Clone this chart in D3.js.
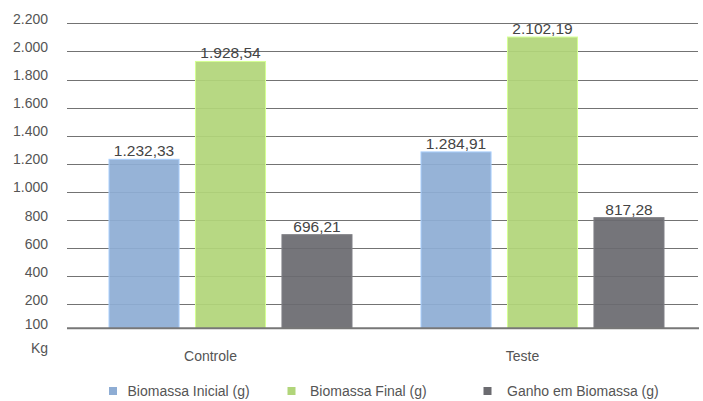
<!DOCTYPE html>
<html>
<head>
<meta charset="utf-8">
<script src="https://cdn.jsdelivr.net/npm/d3@7"></script>
<style>
  body { margin: 0; background: #fff; }
  svg text { font-family: "Helvetica Neue", Helvetica, Arial, "Liberation Sans", sans-serif; }
</style>
</head>
<body>
<svg id="chart" width="703" height="401"></svg>
<script>
// data
const categories = ["Controle", "Teste"];
const seriesNames = ["Biomassa Inicial (g)", "Biomassa Final (g)", "Ganho em Biomassa (g)"];
const biomassaInicial = [1232.33, 1284.91];
const biomassaFinal = [1928.54, 2102.19];
const ganhoBiomassa = [696.21, 817.28];
const yTicks = [200, 400, 600, 800, 1000, 1200, 1400, 1600, 1800, 2000, 2200];
const yBaseLabel = "100";
const yDomain = [30, 2200];
const yUnit = "Kg";

const seriesValues = [biomassaInicial, biomassaFinal, ganhoBiomassa];
const colors = ["#8EADD4", "#B1D57A", "#6B6B70"];

const ptBR = d3.formatLocale({ decimal: ",", thousands: ".", grouping: [3], currency: ["R$", ""] });
const fmtTick = ptBR.format(",d");
const fmtVal = ptBR.format(",.2f");

const svg = d3.select("#chart");
const plotLeft = 67, plotRight = 698, plotTop = 23.3, plotBottom = 328.3;

const y = d3.scaleLinear().domain(yDomain).range([plotBottom, plotTop]);

const x0 = d3.scaleBand()
    .domain(categories)
    .range([plotLeft, plotLeft + 624]);

const x1 = d3.scaleBand()
    .domain(seriesNames)
    .range([42, 285])
    .paddingInner(0.19);

// gridlines
svg.append("g")
    .selectAll("line")
    .data(yTicks)
    .join("line")
    .attr("x1", plotLeft)
    .attr("x2", plotRight)
    .attr("y1", d => Math.round(y(d)) + 0.5)
    .attr("y2", d => Math.round(y(d)) + 0.5)
    .attr("stroke", "#737373")
    .attr("stroke-width", 1);

// tick labels
const tickG = svg.append("g").attr("fill", "#555").attr("font-size", 14).attr("text-anchor", "end");
tickG.selectAll("text")
    .data(yTicks)
    .join("text")
    .attr("x", 48)
    .attr("y", d => y(d) + 0.5)
    .text(d => fmtTick(d));

tickG.append("text")
    .attr("x", 48)
    .attr("y", y(yDomain[0]) + 0.5)
    .text(yBaseLabel);

tickG.append("text")
    .attr("x", 48)
    .attr("y", y(yDomain[0]) + 25)
    .text(yUnit);

// bars
const rows = [];
categories.forEach((c, ci) => {
    seriesNames.forEach((s, si) => {
        rows.push({ cat: c, series: s, value: seriesValues[si][ci], color: colors[si] });
    });
});

const barG = svg.append("g");
barG.selectAll("rect")
    .data(rows)
    .join("rect")
    .attr("x", d => x0(d.cat) + x1(d.series))
    .attr("y", d => y(d.value))
    .attr("width", x1.bandwidth())
    .attr("height", d => y(yDomain[0]) - y(d.value))
    .attr("fill", d => d.color)
    .attr("fill-opacity", 0.93)
    .attr("stroke", d => d3.color(d.color).brighter(0.5))
    .attr("stroke-width", 1);

barG.selectAll("text")
    .data(rows)
    .join("text")
    .attr("x", d => x0(d.cat) + x1(d.series) + x1.bandwidth() / 2)
    .attr("y", d => y(d.value) - 3)
    .attr("text-anchor", "middle")
    .attr("font-size", 15.5)
    .attr("fill", "#444")
    .text(d => fmtVal(d.value));

// baseline
svg.append("line")
    .attr("x1", plotLeft)
    .attr("x2", plotRight + 1)
    .attr("y1", y(yDomain[0]))
    .attr("y2", y(yDomain[0]))
    .attr("stroke", "#777")
    .attr("stroke-width", 2);

// category labels
svg.append("g")
    .selectAll("text")
    .data(categories)
    .join("text")
    .attr("x", d => x0(d) + x0.bandwidth() * 0.46)
    .attr("y", 361)
    .attr("text-anchor", "middle")
    .attr("font-size", 14)
    .attr("fill", "#555")
    .text(d => d);

// legend
const legendX = 109;
const legendOffsets = [0, 178.5, 374.5];
const legend = svg.append("g")
    .selectAll("g")
    .data(seriesNames)
    .join("g")
    .attr("transform", (d, i) => `translate(${legendX + legendOffsets[i]},387)`);

legend.append("rect")
    .attr("width", 8)
    .attr("height", 8)
    .attr("fill", (d, i) => colors[i]);

legend.append("text")
    .attr("x", (d, i) => [18.5, 22.5, 23.5][i])
    .attr("y", 8.5)
    .attr("font-size", 14)
    .attr("fill", "#555")
    .text(d => d);
</script>
</body>
</html>
